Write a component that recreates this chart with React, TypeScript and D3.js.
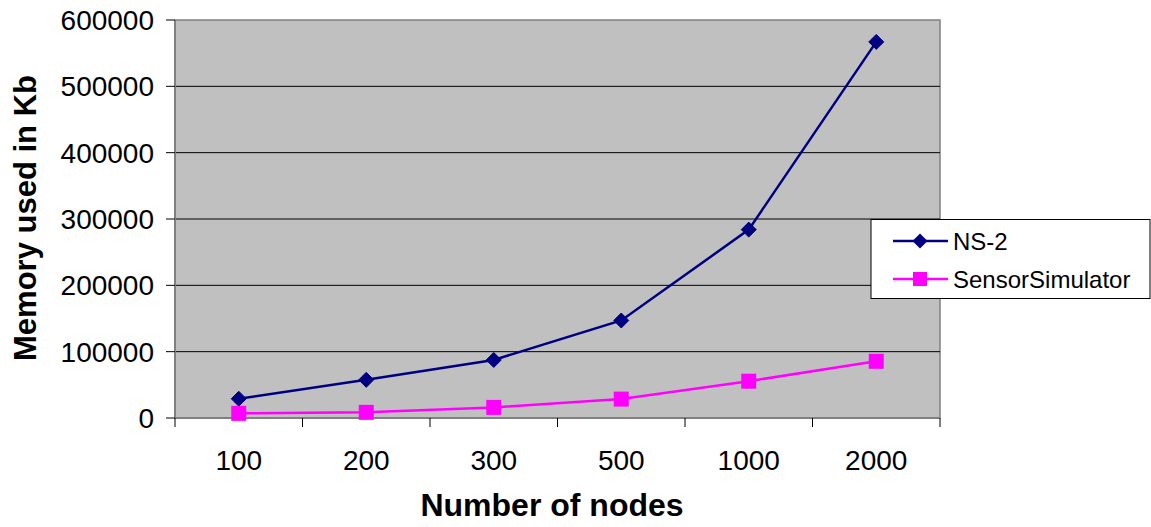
import React from "react";
import * as d3 from "d3";

const categories = ["100", "200", "300", "500", "1000", "2000"];
const ns2 = [29000, 57500, 87500, 147000, 284000, 567000];
const sensorSim = [7000, 8500, 16000, 28500, 55500, 85500];
const yTicks = [0, 100000, 200000, 300000, 400000, 500000, 600000];

const W = 1151, H = 527;
const L = 175, R = 940, T = 20, B = 418;
const FONT = "'Liberation Sans', Arial, sans-serif";

export default function App() {
  const x = d3.scaleBand<string>().domain(categories).range([L, R]);
  const y = d3.scaleLinear().domain([0, 600000]).range([B, T]);
  const cx = (c: string) => (x(c) as number) + x.bandwidth() / 2;
  const line = d3.line<number>().x((_, i) => cx(categories[i])).y((d) => y(d));
  const diamond = (px: number, py: number, r: number) =>
    `M${px},${py - r}L${px + r},${py}L${px},${py + r}L${px - r},${py}Z`;
  const bounds = [...categories.map((c) => x(c) as number), R];

  return (
    <svg width={W} height={H} style={{ position: "absolute", left: 0, top: 0, fontFamily: FONT }}>
      <rect x={0} y={0} width={W} height={H} fill="#fff" />
      <rect x={L} y={T} width={R - L} height={B - T} fill="#c0c0c0" stroke="#808080" strokeWidth={1.5} />
      {yTicks.slice(1, -1).map((t) => (
        <line key={t} x1={L} x2={R} y1={y(t)} y2={y(t)} stroke="#000" strokeWidth={1} />
      ))}
      {/* axes */}
      <line x1={L} x2={L} y1={T} y2={B} stroke="#808080" strokeWidth={2} />
      <line x1={L} x2={R} y1={B} y2={B} stroke="#808080" strokeWidth={2} />
      {yTicks.map((t) => (
        <g key={t}>
          <line x1={L - 9} x2={L} y1={y(t)} y2={y(t)} stroke="#000" strokeWidth={1} />
          <text x={154} y={y(t)} dy="0.36em" textAnchor="end" fontSize={28} fill="#000">
            {t}
          </text>
        </g>
      ))}
      {bounds.map((b, i) => (
        <line key={i} x1={b} x2={b} y1={B} y2={B + 9} stroke="#000" strokeWidth={1} />
      ))}
      {categories.map((c) => (
        <text key={c} x={cx(c)} y={470} textAnchor="middle" fontSize={28} fill="#000">
          {c}
        </text>
      ))}
      <text x={552} y={516} textAnchor="middle" fontSize={32} fontWeight="bold" fill="#000">
        Number of nodes
      </text>
      <text
        transform={`translate(36,${218}) rotate(-90)`}
        textAnchor="middle"
        fontSize={31}
        fontWeight="bold"
        fill="#000"
      >
        Memory used in Kb
      </text>
      {/* series */}
      <path d={line(ns2) as string} fill="none" stroke="#000080" strokeWidth={2.5} />
      {ns2.map((v, i) => (
        <path key={i} d={diamond(cx(categories[i]), y(v), 7.5)} fill="#000080" stroke="#000080" strokeWidth={1} />
      ))}
      <path d={line(sensorSim) as string} fill="none" stroke="#ff00ff" strokeWidth={2.5} />
      {sensorSim.map((v, i) => (
        <rect key={i} x={cx(categories[i]) - 7.5} y={y(v) - 7.5} width={15} height={15} fill="#ff00ff" />
      ))}
      {/* legend */}
      <rect x={871} y={219.5} width={279} height={79} fill="#fff" stroke="#000" strokeWidth={1} />
      <line x1={893} x2={948} y1={241} y2={241} stroke="#000080" strokeWidth={2.5} />
      <path d={diamond(920, 241, 7.5)} fill="#000080" />
      <text x={953} y={241} dy="0.36em" fontSize={24} fill="#000">NS-2</text>
      <line x1={893} x2={948} y1={279} y2={279} stroke="#ff00ff" strokeWidth={2.5} />
      <rect x={913} y={272} width={14} height={14} fill="#ff00ff" />
      <text x={953} y={279} dy="0.36em" fontSize={24} fill="#000">SensorSimulator</text>
    </svg>
  );
}
